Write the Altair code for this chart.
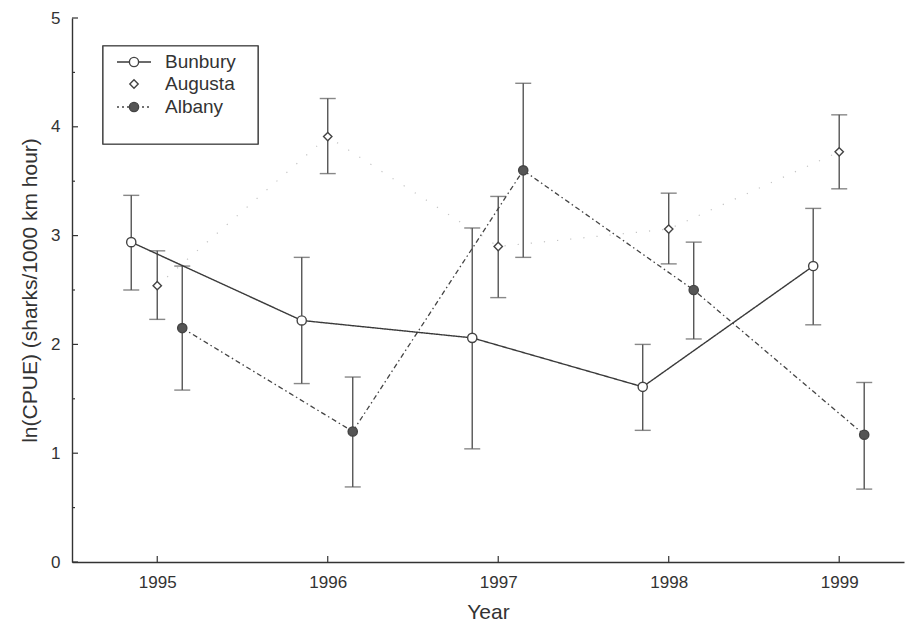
import altair as alt
import pandas as pd

years = [1995, 1996, 1997, 1998, 1999]

bunbury = [2.94, 2.22, 2.06, 1.61, 2.72]
bunbury_lo = [2.50, 1.64, 1.04, 1.21, 2.18]
bunbury_hi = [3.37, 2.80, 3.07, 2.00, 3.25]

augusta = [2.54, 3.91, 2.90, 3.06, 3.77]
augusta_lo = [2.23, 3.57, 2.43, 2.74, 3.43]
augusta_hi = [2.86, 4.26, 3.36, 3.39, 4.11]

albany = [2.15, 1.20, 3.60, 2.50, 1.17]
albany_lo = [1.58, 0.69, 2.80, 2.05, 0.67]
albany_hi = [2.72, 1.70, 4.40, 2.94, 1.65]

series_names = ["Bunbury", "Augusta", "Albany"]
y_ticks = [0, 1, 2, 3, 4, 5]
y_minor = [0.5, 1.5, 2.5, 3.5, 4.5]

FONT = "Liberation Sans"
INK = "#333333"
W, H = 832, 544

def frame(v, lo, hi):
    return pd.DataFrame({"year": years, "v": v, "lo": lo, "hi": hi})

xs = alt.Scale(domain=[1994.5, 1999.38], nice=False, zero=False)
ys = alt.Scale(domain=[0, 5], nice=False)

X = alt.X("year:Q", scale=xs,
          axis=alt.Axis(values=years, format="d", title="Year", ticks=False,
                        grid=False, labelPadding=12, titlePadding=11))
Y = alt.Y("v:Q", scale=ys,
          axis=alt.Axis(values=y_ticks, format="d", title="ln(CPUE) (sharks/1000 km hour)",
                        ticks=False, grid=False, labelPadding=12, titlePadding=10))


def series(df, dx, line_color, dash, point_shape, filled, size, line_width):
    base = alt.Chart(df)
    line = base.mark_line(color=line_color, strokeWidth=line_width,
                          strokeDash=dash, xOffset=dx).encode(x=X, y=Y)
    bar = base.mark_rule(color="#555555", strokeWidth=1.4, xOffset=dx).encode(
        x="year:Q", y="lo:Q", y2="hi:Q")
    cap_lo = base.mark_tick(orient="horizontal", size=16, thickness=1.4,
                            color="#555555", xOffset=dx).encode(x="year:Q", y="lo:Q")
    cap_hi = base.mark_tick(orient="horizontal", size=16, thickness=1.4,
                            color="#555555", xOffset=dx).encode(x="year:Q", y="hi:Q")
    pt = base.mark_point(shape=point_shape, filled=filled, size=size,
                         stroke="#444444", strokeWidth=1.4,
                         fill="#555555" if filled else "white", opacity=1,
                         xOffset=dx).encode(x="year:Q", y="v:Q")
    return [line, bar, cap_lo, cap_hi, pt]

layers = []
layers += series(frame(augusta, augusta_lo, augusta_hi), 0, "#c4c4c4", [1.2, 12],
                 "diamond", False, 70, 1.2)
layers += series(frame(albany, albany_lo, albany_hi), 25, "#444444", [5, 3, 1.5, 3],
                 "circle", True, 85, 1.3)
layers += series(frame(bunbury, bunbury_lo, bunbury_hi), -26, "#3a3a3a", [1, 0],
                 "circle", False, 85, 1.4)

# inward axis ticks
ytick_df = pd.DataFrame({"t": y_ticks})
yminor_df = pd.DataFrame({"t": y_minor})
xtick_df = pd.DataFrame({"year": years})
layers.append(alt.Chart(ytick_df).mark_rule(color=INK, strokeWidth=1.2).encode(
    y=alt.Y("t:Q", scale=ys), x=alt.value(0), x2=alt.value(6)))
layers.append(alt.Chart(yminor_df).mark_rule(color=INK, strokeWidth=1.2).encode(
    y=alt.Y("t:Q", scale=ys), x=alt.value(0), x2=alt.value(3)))
layers.append(alt.Chart(xtick_df).mark_rule(color=INK, strokeWidth=1.2).encode(
    x=alt.X("year:Q", scale=xs), y=alt.value(H), y2=alt.value(H - 6)))

# legend
leg = pd.DataFrame({"name": series_names})
row_y = {"Bunbury": 44, "Augusta": 66, "Albany": 89}
layers.append(alt.Chart(leg).mark_rect(fill="white", stroke="#444444", strokeWidth=1.2).encode(
    x=alt.value(31), x2=alt.value(186), y=alt.value(28), y2=alt.value(126)))
for nm in series_names:
    d = leg[leg["name"] == nm]
    ry = row_y[nm]
    if nm == "Bunbury":
        layers.append(alt.Chart(d).mark_rule(color="#3a3a3a", strokeWidth=1.4).encode(
            x=alt.value(45), x2=alt.value(79), y=alt.value(ry)))
        layers.append(alt.Chart(d).mark_point(shape="circle", filled=False, size=85,
                      stroke="#444444", fill="white", strokeWidth=1.4, opacity=1).encode(
            x=alt.value(62), y=alt.value(ry)))
    elif nm == "Augusta":
        layers.append(alt.Chart(d).mark_point(shape="diamond", filled=False, size=70,
                      stroke="#444444", fill="white", strokeWidth=1.4, opacity=1).encode(
            x=alt.value(62), y=alt.value(ry)))
    else:
        layers.append(alt.Chart(d).mark_rule(color="#444444", strokeWidth=1.3,
                      strokeDash=[2, 3]).encode(
            x=alt.value(45), x2=alt.value(79), y=alt.value(ry)))
        layers.append(alt.Chart(d).mark_point(shape="circle", filled=True, size=85,
                      stroke="#444444", fill="#555555", strokeWidth=1.4, opacity=1).encode(
            x=alt.value(62), y=alt.value(ry)))
    layers.append(alt.Chart(d).mark_text(align="left", baseline="middle", font=FONT,
                  fontSize=19, color=INK).encode(
        text="name:N", x=alt.value(93), y=alt.value(ry)))

chart = alt.layer(*layers).properties(
    width=W, height=H,
    autosize=alt.AutoSizeParams(type="none"),
    padding={"left": 64, "top": 10, "right": 2, "bottom": 61},
).configure_view(stroke=None).configure_axis(
    domainColor=INK, domainWidth=1.4, labelFont=FONT, titleFont=FONT,
    labelColor=INK, titleColor=INK, labelFontSize=17, titleFontSize=21,
    titleFontWeight="normal",
)

chart.save("out.html", embed_options={"renderer": "svg", "actions": False})
